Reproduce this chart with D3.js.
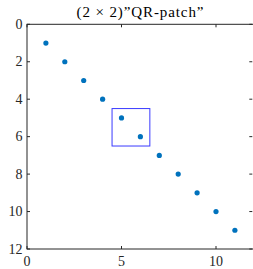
<!DOCTYPE html>
<html>
<head>
<meta charset="utf-8">
<script src="https://cdn.jsdelivr.net/npm/d3@7"></script>
<style>
  body { margin: 0; background: #fff; }
  text { font-family: "Liberation Serif", "DejaVu Serif", serif; }
</style>
</head>
<body>
<script>
// data
var xs = [1, 2, 3, 4, 5, 6, 7, 8, 9, 10, 11];
var ys = [1, 2, 3, 4, 5, 6, 7, 8, 9, 10, 11];
var xTicks = [0, 5, 10];
var yTicks = [0, 2, 4, 6, 8, 10, 12];
var patchX = [4.5, 6.5];
var patchY = [4.5, 6.5];
var title = '(2 \u00d7 2)\u201dQR-patch\u201d';

var width = 253, height = 269;
var margin = {top: 24.3, left: 27, right: -0.8, bottom: 20};

var svg = d3.select('body').append('svg')
  .attr('width', width)
  .attr('height', height);

var x = d3.scaleLinear().domain([0, 12]).range([margin.left, width - margin.right]);
var y = d3.scaleLinear().domain([0, 12]).range([margin.top, height - margin.bottom]);

// box
svg.append('rect')
  .attr('x', x(0)).attr('y', y(0))
  .attr('width', x(12) - x(0)).attr('height', y(12) - y(0))
  .attr('fill', 'none').attr('stroke', '#262626').attr('stroke-width', 1);

// ticks inward
var tl = 3;
svg.selectAll('.xt').data(xTicks).enter().append('line')
  .attr('x1', function(d){ return x(d); }).attr('x2', function(d){ return x(d); })
  .attr('y1', y(12)).attr('y2', y(12) - tl)
  .attr('stroke', '#262626');
svg.selectAll('.xtt').data(xTicks).enter().append('line')
  .attr('x1', function(d){ return x(d); }).attr('x2', function(d){ return x(d); })
  .attr('y1', y(0)).attr('y2', y(0) + tl)
  .attr('stroke', '#262626');
svg.selectAll('.yt').data(yTicks).enter().append('line')
  .attr('x1', x(0)).attr('x2', x(0) + tl)
  .attr('y1', function(d){ return y(d); }).attr('y2', function(d){ return y(d); })
  .attr('stroke', '#262626');
svg.selectAll('.ytr').data(yTicks).enter().append('line')
  .attr('x1', x(12) - 1.5).attr('x2', x(12) - 1.5 - tl)
  .attr('y1', function(d){ return y(d); }).attr('y2', function(d){ return y(d); })
  .attr('stroke', '#262626');

// tick labels
svg.selectAll('.xl').data(xTicks).enter().append('text')
  .attr('x', function(d){ return x(d); })
  .attr('y', y(12) + 17)
  .attr('text-anchor', 'middle')
  .attr('font-size', 14)
  .attr('fill', '#262626')
  .text(function(d){ return d; });
svg.selectAll('.yl').data(yTicks).enter().append('text')
  .attr('x', x(0) - 4.5)
  .attr('y', function(d){ return y(d) + 4.5; })
  .attr('text-anchor', 'end')
  .attr('font-size', 14)
  .attr('fill', '#262626')
  .text(function(d){ return d; });

// patch
svg.append('rect')
  .attr('x', x(patchX[0])).attr('y', y(patchY[0]))
  .attr('width', x(patchX[1]) - x(patchX[0]))
  .attr('height', y(patchY[1]) - y(patchY[0]))
  .attr('fill', 'none').attr('stroke', '#3a3aff').attr('stroke-width', 1);

// points
svg.selectAll('.pt').data(xs).enter().append('circle')
  .attr('cx', function(d){ return x(d); })
  .attr('cy', function(d, i){ return y(ys[i]); })
  .attr('r', 2.6)
  .attr('fill', '#0072bd');

// title
svg.append('text')
  .attr('x', 140).attr('y', 17)
  .attr('text-anchor', 'middle')
  .attr('font-size', 15)
  .attr('textLength', 127)
  .attr('lengthAdjust', 'spacing')
  .attr('fill', '#000')
  .text(title);
</script>
</body>
</html>
